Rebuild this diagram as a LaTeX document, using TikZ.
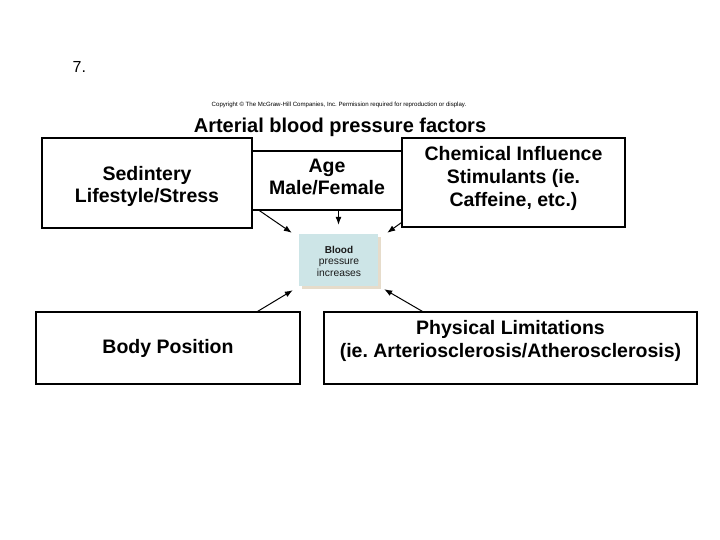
\documentclass[tikz,border=0pt]{standalone}
\usepackage{fontspec}
\setmainfont{Liberation Sans}
\usetikzlibrary{arrows.meta,calc}
\definecolor{bpfill}{HTML}{CDE5E7}
\definecolor{bpshadow}{HTML}{E6DCCB}
\definecolor{bptext}{HTML}{1A1A1A}
\tikzset{
  box/.style={draw=black, line width=1.2pt, fill=white, inner sep=0pt},
  lbl/.style={anchor=base, inner sep=0pt, font=\fontsize{19.5}{23}\selectfont\bfseries},
  bplbl/.style={anchor=base, inner sep=0pt, text=bptext},
  arr/.style={line width=1pt, -{Latex[length=8pt,width=6pt]}},
}
\begin{document}
\frenchspacing
\begin{tikzpicture}[x=1pt,y=-1pt]
\useasboundingbox (0,0) rectangle (720,540);

% heading
\node[anchor=base west, inner sep=0pt, font=\fontsize{16}{18}\selectfont] (num) at (72.5,73) {7.};
\node[anchor=base, inner sep=0pt, font=\fontsize{6.1}{7}\selectfont] (copy) at (339,107) {Copyright \textcopyright{} The McGraw-Hill Companies, Inc. Permission required for reproduction or display.};
\node[anchor=base, inner sep=0pt, font=\fontsize{20}{24}\selectfont\bfseries] (title) at (340,133) {Arterial blood pressure factors};

% boxes
\node[box, minimum width=150pt, minimum height=59pt] (age) at (327,180.5) {};
\node[box, minimum width=210pt, minimum height=90pt] (sed) at (147,183) {};
\node[box, minimum width=223pt, minimum height=89pt] (chem) at (513.5,182.5) {};
\node[box, minimum width=264pt, minimum height=72pt] (body) at (168,348) {};
\node[box, minimum width=373pt, minimum height=72pt] (phys) at (510.5,348) {};

% blood pressure box with shadow
\fill[bpshadow] (302,237) rectangle (381,289);
\node[fill=bpfill, inner sep=0pt, minimum width=79pt, minimum height=52pt] (bp) at (338.5,260) {};
\node[bplbl, font=\fontsize{10}{11}\selectfont\bfseries] (bp1) at (339,253) {Blood};
\node[bplbl, font=\fontsize{10.3}{11}\selectfont] (bp2) at (339,264) {pressure};
\node[bplbl, font=\fontsize{10.3}{11}\selectfont] (bp3) at (339,276) {increases};

% labels
\node[lbl] (sed1) at (147,181) {Sedintery};
\node[lbl] (sed2) at (147,203) {Lifestyle/Stress};
\node[lbl] (age1) at (327,173) {Age};
\node[lbl] (age2) at (327,195) {Male/Female};
\node[lbl] (chem1) at (513.5,161) {Chemical Influence};
\node[lbl] (chem2) at (513.5,184) {Stimulants (ie.};
\node[lbl] (chem3) at (513.5,207) {Caffeine, etc.)};
\node[lbl] (body1) at (168,353) {Body Position};
\node[lbl] (phys1) at (510.5,334) {Physical Limitations};
\node[lbl] (phys2) at (510.5,357) {(ie. Arteriosclerosis/Atherosclerosis)};

% arrows
\draw[arr, shorten >=9pt] (age.south -| bp.north) -- (bp.north);
\draw[arr] ($(age.south west)+(8,0)$) -- ($(bp.north west)+(-7,-1)$);
\draw[arr] ($(chem.south west)+(0,-5)$) -- ($(bp.north east)+(9,-1)$);
\draw[arr] ($(body.north east)+(-43,0)$) -- ($(bp.south west)+(-6,4)$);
\draw[arr] ($(phys.north west)+(99,0)$) -- ($(bp.south east)+(6,3)$);
\end{tikzpicture}
\end{document}
